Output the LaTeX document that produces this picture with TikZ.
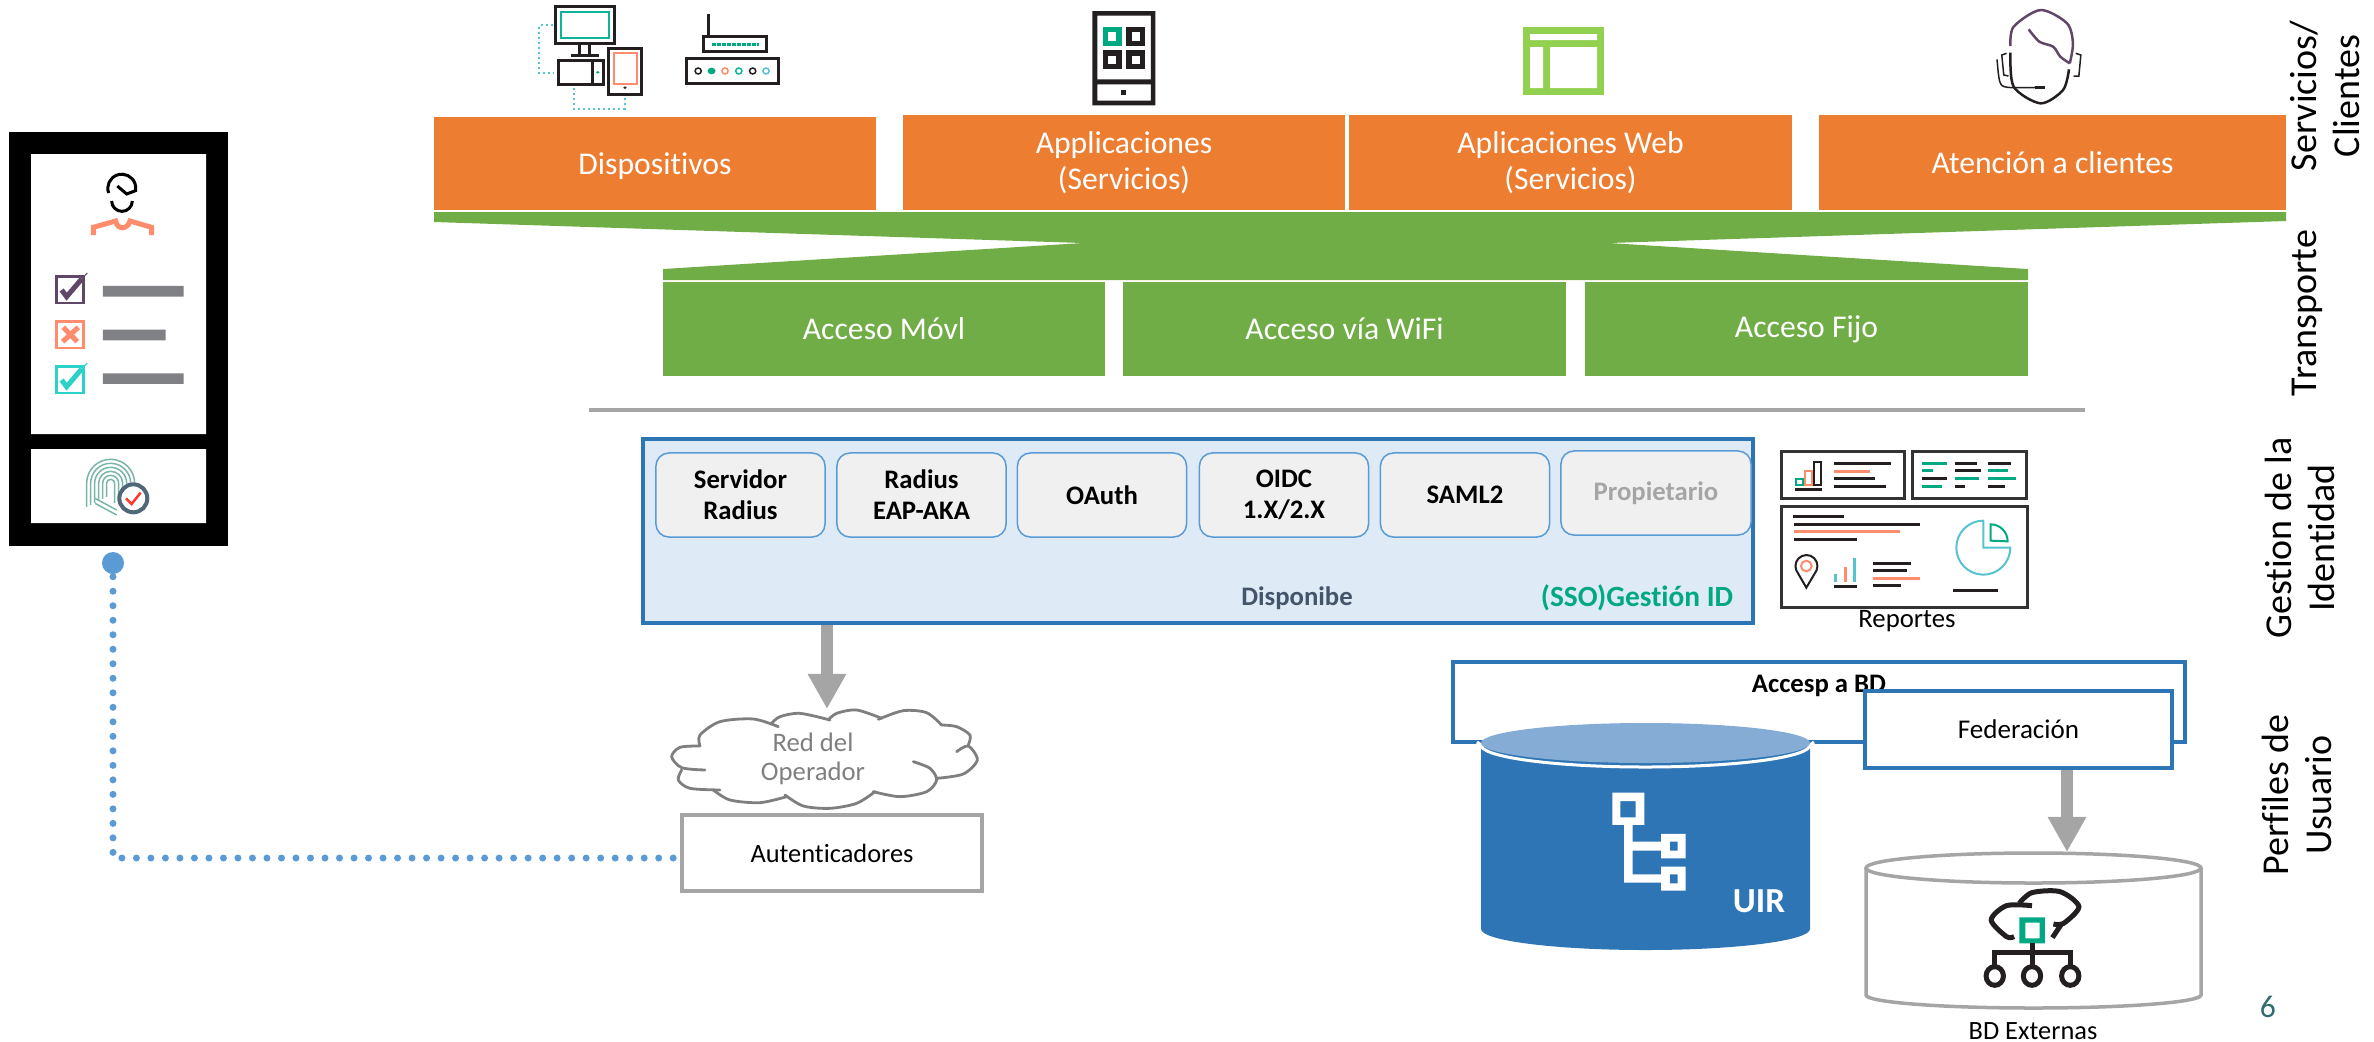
\documentclass[tikz,border=0pt]{standalone}
\usepackage{fontspec}
\setmainfont[Ligatures=NoCommon]{Carlito}
\usetikzlibrary{arrows.meta}
\definecolor{naranja}{HTML}{ED7D31}
\definecolor{verde}{HTML}{70AD47}
\definecolor{azul}{HTML}{2E75B6}
\definecolor{azulclaro}{HTML}{5B9BD5}
\definecolor{fondo}{HTML}{DEEAF6}
\definecolor{tapa}{HTML}{84ACD5}
\definecolor{gris}{HTML}{A5A5A5}
\definecolor{grisnube}{HTML}{7F7F7F}
\definecolor{barra}{HTML}{808184}
\definecolor{menta}{HTML}{01A982}
\definecolor{lima}{HTML}{92D050}
\definecolor{salmon}{HTML}{FF8D6D}
\definecolor{purpura}{HTML}{614767}
\definecolor{turquesa}{HTML}{2AD2C9}
\definecolor{celeste}{HTML}{55C4D0}
\definecolor{pizarra}{HTML}{44546A}
\definecolor{huella}{HTML}{7AB5A8}
\definecolor{negro}{HTML}{231F20}
\newcommand{\puff}[1]{\draw[grisnube, line width=.028cm, line cap=round] plot[smooth] coordinates {#1};}
\begin{document}
\begin{tikzpicture}[x=0.01cm, y=-0.01cm]
  \useasboundingbox (0, 0) rectangle (2374, 1041);
  \tikzstyle{banda}=[minimum width=4.42cm, inner sep=0pt, text=white, align=center, font=\fontsize{9}{10.2}\selectfont]
  \tikzstyle{naranjabox}=[banda, fill=naranja, minimum height=.95cm]
  \tikzstyle{verdebox}=[banda, fill=verde, minimum height=.94cm]
  \tikzstyle{protocolo}=[draw=azulclaro, fill=black!6, rounded corners=.13cm, line width=.015cm, inner sep=0pt, minimum width=1.69cm, minimum height=.84cm, align=center, font=\fontsize{7.6}{8.8}\selectfont\bfseries]
  \tikzstyle{grisbox}=[draw=gris, line width=.04cm, fill=white, inner sep=0pt, font=\fontsize{7.5}{9}\selectfont]
  \tikzstyle{azulbox}=[draw=azul, line width=.04cm, fill=white, inner sep=0pt, font=\fontsize{7.7}{9}\selectfont]
  \tikzstyle{capa}=[rotate=90, align=center, font=\fontsize{10.8}{12.2}\selectfont]
  \tikzstyle{flecha}=[draw=gris, line width=.12cm, -{Triangle[length=.35cm, width=.36cm, fill=gris]}]
  \tikzstyle{icono}=[line width=.03cm, draw=negro]
  \tikzstyle{fino}=[line width=.02cm, draw=negro]
  \tikzstyle{punteado}=[line width=.02cm, draw=celeste, dash pattern=on .02cm off .03cm]

  % Servicios / clientes
  \node[naranjabox, minimum height=.93cm, text depth=0pt] (dispositivos) at (655, 163.5) {\raisebox{-.3pt}{Dispositivos}};
  \node[naranjabox] (apps) at (1124, 162.5) {\raisebox{-.7pt}{Applicaciones}\\\raisebox{-.7pt}{(Servicios)}};
  \node[naranjabox] (web) at (1570.5, 162.5) {\raisebox{-.7pt}{Aplicaciones Web}\\\raisebox{-.7pt}{(Servicios)}};
  \node[naranjabox, minimum width=4.67cm] (clientes) at (2052.5, 162.5) {Atención a clientes};

  % Transporte
  \fill[verde] (434, 212) -- (2286, 212) -- (2286, 221) -- (1609, 243) -- (2028, 269) -- (2028, 280)
    -- (663, 280) -- (663, 269) -- (1083, 243) -- (434, 222) -- cycle;
  \node[verdebox] (movil) at (884, 329) {Acceso Móvl};
  \node[verdebox] (wifi) at (1344.5, 329) {Acceso vía WiFi};
  \node[verdebox] (fijo) at (1806.5, 329) {Acceso Fijo};
  \draw[gris, line width=.04cm] (589, 410) -- (2085, 410);

  % Gestion de la identidad
  \node[draw=azul, fill=fondo, line width=.04cm, minimum width=11.1cm, minimum height=1.84cm, inner sep=0pt] (gestion) at (1198, 531) {};
  \node[protocolo] (radius) at (740.5, 495) {Servidor\\Radius};
  \node[protocolo] (eap) at (921.5, 495) {Radius\\EAP-AKA};
  \node[protocolo] (oauth) at (1102, 495) {OAuth};
  \node[protocolo] (oidc) at (1284, 495) {OIDC\\1.X/2.X};
  \node[protocolo] (saml) at (1465, 495) {SAML2};
  \node[protocolo, text=gris, minimum width=1.9cm] (propietario) at (1656, 493) {Propietario};
  \node[text=pizarra, font=\fontsize{7.6}{9}\selectfont\bfseries] (disponibe) at (1297, 598) {Disponibe};
  \node[text=menta, font=\fontsize{8.35}{10}\selectfont\bfseries] (sso) at (1637, 598) {(SSO)Gestión ID};

  % Red del operador
  \node[text=grisnube, align=center, font=\fontsize{7.6}{8.4}\selectfont] (red) at (813, 759) {Red del\\Operador};
  \node[grisbox, minimum width=3cm, minimum height=.76cm] (autenticadores) at (832, 853) {Autenticadores};
  \coordinate (nube) at (827, 709);
  \begin{scope}[shift={(640, 620)}, scale=.3333]
    \puff{(180,378) (120,382) (95,410) (125,443) (195,450)}
    \puff{(125,450) (115,480) (150,505) (240,510)}
    \puff{(220,510) (270,540) (360,548) (440,530)}
    \puff{(435,525) (490,558) (570,565) (650,550) (705,515)}
    \puff{(700,515) (780,530) (860,515) (890,480) (870,445) (820,425)}
    \puff{(890,475) (970,462) (1012,420) (985,378) (950,395)}
    \puff{(985,375) (990,345) (950,320) (905,315)}
    \puff{(905,315) (860,278) (790,272) (715,298)}
    \puff{(725,295) (650,270) (590,280) (565,300)}
    \puff{(570,300) (480,280) (420,290) (395,310)}
    \puff{(415,320) (340,297) (240,305) (180,345) (180,378)}
  \end{scope}
  \draw[flecha] (nube |- gestion.south) -- (nube);

  % Reportes
  \node[font=\fontsize{7.6}{9}\selectfont] (reportes) at (1907, 621) {Reportes};
  \begin{scope}[shift={(1750, 430)}, scale=.3333]
    \draw[icono, draw=black!80] (95, 65) rectangle (465, 205);
    \draw[icono, draw=black!80] (487, 65) rectangle (830, 205);
    \draw[icono, draw=black!80] (95, 228) rectangle (832, 532);
    \foreach \xa/\xb/\yy/\cc in {135/216/178/negro, 252/423/100/negro, 252/360/124/salmon, 252/375/145/negro, 252/408/169/negro,
      516/591/100/menta, 516/549/121/menta, 516/591/145/negro, 516/576/169/menta,
      615/681/100/negro, 615/693/121/negro, 615/687/145/menta, 615/645/169/negro,
      714/783/100/negro, 714/774/121/menta, 714/797/145/menta, 714/765/169/negro,
      129/282/259/negro, 132/510/283/negro, 132/450/305/salmon, 132/321/328/negro,
      369/483/400/negro, 369/471/422/negro, 369/510/445/salmon, 369/453/466/negro,
      252/321/469/negro, 609/744/481/negro} {
      \draw[\cc, line width=.028cm] (\xa, \yy) -- (\xb, \yy);
    }
    \draw[menta, line width=.02cm] (138, 146) rectangle (158, 164);
    \draw[salmon, line width=.02cm] (165, 122) rectangle (186, 164);
    \draw[negro, line width=.02cm] (192, 97) rectangle (213, 164);
    \fill[celeste] (252, 432) rectangle (261, 456);
    \fill[salmon] (282, 411) rectangle (291, 456);
    \fill[celeste] (309, 384) rectangle (318, 456);
    \draw[fino] (169, 473) -- (139, 421) arc[start angle=157, end angle=383, radius=33] -- cycle;
    \draw[salmon, line width=.02cm] (169, 408) circle (16);
    \draw[celeste, line width=.02cm] (700, 272) arc[start angle=270, end angle=0, radius=81] -- (700, 353) -- cycle;
    \draw[menta, line width=.02cm] (722, 283) arc[start angle=270, end angle=360, radius=51] -- (722, 332) -- cycle;
  \end{scope}

  % Perfiles de usuario
  \node[azulbox, minimum width=7.32cm, minimum height=.8cm] (acceso) at (1819, 702) {};
  \node[font=\fontsize{7.6}{9}\selectfont\bfseries] (accesotxt) at (1819, 686) {Accesp a BD};
  \fill[azul] (1481, 747) -- (1481, 929) arc[start angle=180, end angle=0, x radius=164.5, y radius=21] -- (1810, 747) -- cycle;
  \draw[white, line width=.03cm] (1477, 742) -- (1481, 745) arc[start angle=180, end angle=0, x radius=164.5, y radius=22] -- (1814, 742);
  \fill[tapa] (1645.5, 743) ellipse (164.5 and 20);
  \node[text=white, font=\fontsize{10}{12}\selectfont\bfseries] (uir) at (1759, 901) {UIR};
  \node[azulbox, minimum width=3.07cm, minimum height=.77cm] (federacion) at (2018.5, 729.5) {Federación};
  \node[font=\fontsize{7.5}{9}\selectfont] (externas) at (2033, 1031) {BD Externas};
  \coordinate (bdtop) at (2067, 852);
  \draw[gris, line width=.035cm, fill=white] (1866, 868) -- (1866, 995) arc[start angle=180, end angle=0, x radius=167.5, y radius=13] -- (2201, 868);
  \draw[gris, line width=.035cm] (2033.5, 868) ellipse (167.5 and 15);
  \draw[flecha] (bdtop |- federacion.south) -- (bdtop);

  \begin{scope}[shift={(1420, 640)}, xscale=.51, yscale=.3333]
    % arbol del UIR
    \fill[white, even odd rule] (377, 458) rectangle (440, 555) (393, 483) rectangle (423, 532);
    \fill[white] (400, 555) rectangle (417, 728) (417, 605) rectangle (473, 632) (417, 703) rectangle (473, 728);
    \fill[white, even odd rule] (473, 582) rectangle (521, 655) (490, 605) rectangle (505, 632);
    \fill[white, even odd rule] (473, 680) rectangle (521, 752) (490, 703) rectangle (505, 730);
    % nube de BD externas
    \draw[icono, line width=.05cm] plot[smooth] coordinates {(1175,790) (1200,758) (1255,755) (1292,800) (1262,850) (1242,852)};
    \draw[icono, line width=.05cm] plot[smooth] coordinates {(1200,797) (1150,797) (1120,840) (1150,890) (1165,890)};
    \draw[icono, line width=.05cm] (1258, 852) -- (1240, 893);
    \fill[menta, even odd rule] (1175, 832) rectangle (1225, 910) (1187, 848) rectangle (1215, 895);
    \draw[icono, line width=.05cm] (1200, 910) -- (1200, 985) (1127, 985) -- (1127, 938) -- (1275, 938) -- (1275, 985);
    \foreach \xx in {1127, 1200, 1275} {
      \draw[icono, line width=.05cm] (\xx, 1008) ellipse (17 and 28);
    }
  \end{scope}

  % Iconos de servicios
  \begin{scope}[shift={(500, 0)}, xscale=.4464, yscale=.3333]
    \draw[icono] (125, 18) rectangle (256, 130);
    \draw[menta!70!turquesa, line width=.02cm] (137, 35) rectangle (244, 115);
    \draw[icono] (178, 130) -- (178, 165) (200, 130) -- (200, 165) (160, 165) -- (222, 165);
    \draw[icono] (130, 182) rectangle (232, 254) (208, 182) -- (208, 254);
    \fill[menta] (219, 217) ellipse (4 and 4);
    \draw[icono] (243, 145) rectangle (318, 284);
    \draw[salmon, line width=.02cm] (255, 160) rectangle (306, 252);
    \fill[negro] (280, 263) ellipse (4 and 4);
    \draw[punteado] (118, 75) -- (88, 75) -- (88, 220) -- (122, 220);
    \draw[punteado] (165, 265) -- (165, 326) -- (280, 326) -- (280, 290);
    \draw[icono] (466, 42) -- (466, 105);
    \draw[icono] (456, 110) rectangle (598, 155);
    \draw[menta, line width=.03cm, dash pattern=on .04cm off .01cm] (475, 133) -- (580, 133);
    \draw[icono] (418, 176) rectangle (624, 250);
    \foreach \xx/\cc in {444/negro, 504/salmon, 535/menta!70!turquesa, 566/negro, 596/celeste} {
      \draw[\cc, line width=.015cm] (\xx, 213) ellipse (7 and 9);
    }
    \fill[menta] (474, 213) ellipse (9 and 10);
    % aplicaciones
    \fill[negro, even odd rule] (1327, 33) rectangle (1468, 316) (1338, 47) rectangle (1458, 238) (1338, 253) rectangle (1458, 302);
    \fill[negro] (1391, 270) rectangle (1403, 285);
    \foreach \xx/\yy/\cc in {1350/80/menta, 1403/80/negro, 1350/150/negro, 1403/150/negro} {
      \fill[\cc] (\xx, \yy) rectangle ++(43, 58);
      \fill[white] (\xx+12, \yy+17) rectangle ++(19, 26);
    }
  \end{scope}
  \fill[lima] (1523, 27) rectangle (1604, 95);
  \fill[white] (1530, 34) rectangle (1597, 40) (1530, 47) rectangle (1543, 88) (1550, 47) rectangle (1597, 88);
  \begin{scope}[shift={(1480, 0)}, xscale=.3953, yscale=.3333]
    \draw[purpura, line width=.025cm] plot[smooth] coordinates {(1342,138) (1350,80) (1418,30) (1485,70) (1500,130) (1492,190)};
    \draw[purpura, line width=.025cm] plot[smooth] coordinates {(1388,88) (1415,125) (1450,140) (1468,170) (1492,190)};
    \draw[icono, line width=.025cm] plot[smooth] coordinates {(1342,158) (1350,260) (1418,310) (1475,270) (1490,208)};
    \draw[fino, line width=.015cm] plot[smooth] coordinates {(1308,178) (1315,245) (1335,262) (1420,262)};
    \draw[icono] (1405, 262) -- (1430, 262);
    \draw[fino, line width=.015cm] (1332, 160) -- (1320, 165) -- (1325, 225) -- (1337, 228);
    \draw[fino, line width=.015cm] (1507, 160) -- (1520, 165) -- (1515, 228) -- (1502, 228);
  \end{scope}

  % Telefono
  \fill[black] (9, 132) rectangle (228, 546);
  \fill[white] (31, 154) rectangle (206, 434) (31, 449) rectangle (206, 523);
  \begin{scope}[shift={(0, 120)}, scale=.3333]
    \draw[black, line width=.03cm] (326, 219) arc[start angle=160, end angle=370, radius=42] -- (380, 222) -- (352, 198);
    \draw[black, line width=.03cm] (335, 243) arc[start angle=180, end angle=0, radius=31];
    \draw[salmon, line width=.05cm] (280, 345) -- (280, 322) -- (347, 303) .. controls (352, 330) and (382, 330) .. (390, 303) -- (455, 322) -- (455, 345);
    \foreach \yy/\cc in {465/purpura, 600/salmon, 735/turquesa} {
      \draw[\cc, line width=.025cm] (169, \yy+4) rectangle (251, \yy+84);
    }
    \foreach \yy/\cc in {465/purpura, 735/turquesa} {
      \draw[\cc, line width=.05cm] (185, \yy+45) -- (200, \yy+65) -- (245, \yy+12);
      \draw[\cc, line width=.01cm] (245, \yy+12) -- (262, \yy-6);
    }
    \draw[salmon, line width=.05cm] (190, 622) -- (232, 665) (235, 622) -- (188, 665);
    \fill[barra] (309, 498) rectangle (551, 530) (309, 629) rectangle (497, 661) (309, 760) rectangle (551, 792);
    % huella
    \foreach \rr in {12, 24, 36, 48, 60, 72} {
      \draw[huella, line width=.015cm] (332-\rr, 1125+\rr/2) -- (332-\rr, 1090) arc[start angle=180, end angle=360, radius=\rr] -- ++(0, 65-\rr/2);
    }
    \foreach \yy in {1150, 1165} {
      \draw[huella, line width=.015cm] (285, \yy-15) -- (350, \yy+20);
    }
    \fill[white] (400, 1135) circle (48);
    \draw[pizarra!80!huella, line width=.04cm] (400, 1135) circle (42);
    \draw[red!60!salmon, line width=.025cm] (378, 1135) -- (395, 1152) -- (422, 1118);
  \end{scope}
  \node[circle, fill=azulclaro, inner sep=0pt, minimum width=.22cm] (inicio) at (113, 563) {};
  \draw[azulclaro, line width=.07cm, line cap=round, dash pattern=on 0cm off .145cm, shorten >=.03cm, shorten <=.02cm] (inicio.south) |- ([yshift=-.05cm]autenticadores.west);

  % Capas
  \node[capa] (servicios) at (2325, 96) {Servicios/\\Clientes};
  \node[capa] (transporte) at (2307, 313) {Transporte};
  \node[capa] (identidad) at (2300, 538) {Gestion de la\\Identidad};
  \node[capa] (perfiles) at (2297, 795) {Perfiles de\\Usuario};
  \node[text=pizarra!70!menta, font=\fontsize{9}{11}\selectfont] (pagina) at (2268, 1007) {6};
\end{tikzpicture}
\end{document}
